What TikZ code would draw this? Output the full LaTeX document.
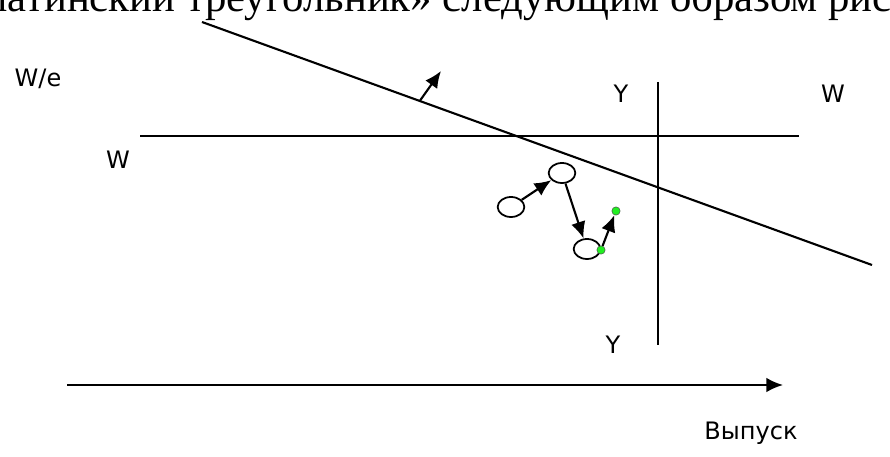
\documentclass[tikz,border=0pt]{standalone}
\usepackage{fontspec}
\setmainfont{DejaVu Sans}
\newfontfamily\timesfont{Liberation Serif}
\usepackage{xcolor}
\definecolor{dotgreen}{HTML}{22EE22}
\usetikzlibrary{arrows.meta,calc,shapes.geometric}

\begin{document}
\begin{tikzpicture}[x=0.03cm,y=-0.03cm,>={Latex[length=5mm,width=4.4mm]},
    line/.style={line width=1.8pt},
    lab/.style={anchor=base,inner sep=0pt,font=\fontsize{20.5}{24}\selectfont},
    pt/.style={draw,ellipse,line width=1.5pt,minimum width=0.8cm,minimum height=0.6cm,inner sep=0pt},
    gdot/.style={circle,draw=black!70,line width=0.4pt,fill=dotgreen,minimum size=0.25cm,inner sep=0pt}]
  \useasboundingbox (0,0) rectangle (890,457);
  % ---------- text of the page above the figure -------------------
  \node[anchor=base west,inner sep=0pt,font=\timesfont\fontsize{36.5}{40}\selectfont]
      (txt) at (-14,12) {латинский треугольник» следующим образом рис};
  % ---------- lines W and Y and the sloped line ---------------------
  \coordinate (wl) at (140,136);  \coordinate (wr) at (799,136);
  \coordinate (yt) at (658,82);   \coordinate (yb) at (658,345);
  \coordinate (sl) at (202,22);   \coordinate (sr) at (872,265);
  \draw[line] (wl) -- (wr);
  \draw[line] (yt) -- (yb);
  \draw[line] (sl) -- (sr);
  % normal to the sloped line
  \coordinate (nb) at ($(sl)!0.325!(sr)$);
  \coordinate (nt) at (441,71);
  \draw[line,->] (nb) -- (nt);
  % ---------- output axis -------------------------------------------
  \coordinate (ax0) at (67,385);  \coordinate (ax1) at (783,385);
  \draw[line,->] (ax0) -- (ax1);
  % ---------- labels --------------------------------------------------
  \node[lab] (lwe) at (38,87)  {W/e};
  \node[lab] (lwl) at (118,169) {W};
  \node[lab] (lyt) at (621,103) {Y};
  \node[lab] (lwr) at (833,103) {W};
  \node[lab] (lyb) at (613,354) {Y};
  \node[lab] (lout) at (751,439) {Выпуск};
  % ---------- path of the economy ----------------------------------
  \node[pt] (p1) at (511,207) {};
  \node[pt] (p2) at (562,173) {};
  \node[pt] (p3) at (587,249) {};
  \draw[line,->] (p1) -- (p2);
  \draw[line,->] (p2) -- (p3);
  \node[gdot] (g1) at (601,250) {};
  \node[gdot] (g2) at (616,211) {};
  \draw[line,->] (g1) -- (g2);
\end{tikzpicture}
\end{document}
